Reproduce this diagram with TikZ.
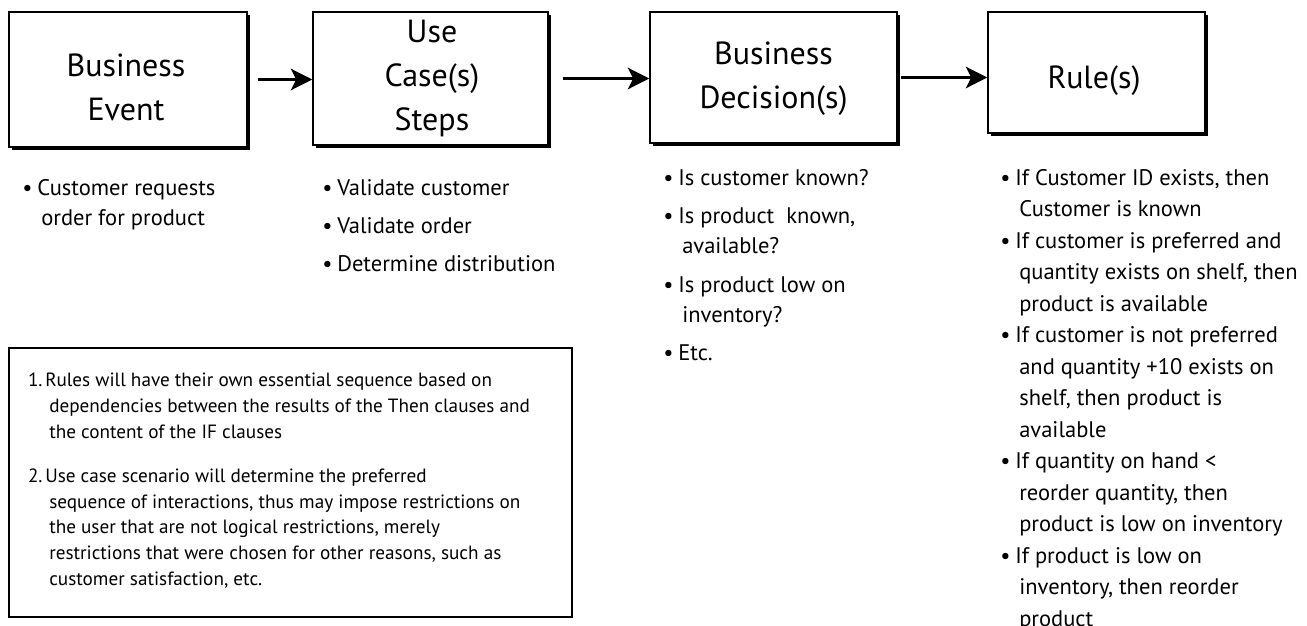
\documentclass[tikz,border=0pt]{standalone}
\usepackage{fontspec}
\setmainfont{PT Sans}
\usetikzlibrary{arrows.meta,shadows}
% bullet hanging in the left margin of an item
\newcommand\itembullet{\llap{\textbullet\hspace{3.5pt}}}
\newcommand\itemnum[1]{\llap{#1\hspace{2pt}}}
\newcommand\cont{\hspace*{3pt}}
\begin{document}
% multi-line nodes below are placed by the baseline of their last line
\begin{tikzpicture}[x=0.75pt,y=-0.75pt,
  stagebox/.style={draw=black, line width=1.1pt, fill=white, inner sep=0pt,
    drop shadow={shadow xshift=2.4pt, shadow yshift=-2.4pt, fill=black, opacity=1}},
  stagetitle/.style={font=\fontsize{24}{33}\selectfont, align=center, anchor=base, inner sep=0pt},
  flow/.style={line width=2.6pt, -{Stealth[length=16pt,width=16pt,inset=4pt]}},
  item/.style={font=\fontsize{16.9}{22.5}\selectfont, align=left, anchor=base west, inner sep=0pt},
  ruleitem/.style={item, font=\fontsize{16.9}{23.6}\selectfont},
  noteitem/.style={item, font=\fontsize{14.4}{19.2}\selectfont},
  notebox/.style={draw=black, line width=0.9pt, inner sep=0pt}
]
\useasboundingbox (0,0) rectangle (1307,625);

% the four stages
\node[stagebox, minimum width=178.5pt, minimum height=101.25pt] (b1) at (128,79.5) {};
\node[stagebox, minimum width=176.25pt, minimum height=99.75pt] (b2) at (430.5,78.5) {};
\node[stagebox, minimum width=185.25pt, minimum height=98.25pt] (b3) at (773.5,77.5) {};
\node[stagebox, minimum width=162.75pt, minimum height=90.75pt] (b4) at (1096.5,72.5) {};

\node[stagetitle] (t1) at (126,120) {Business\\Event};
\node[stagetitle] (t2) at (432,130) {Use\\Case(s)\\Steps};
\node[stagetitle] (t3) at (773.5,108) {Business\\Decision(s)};
\node[stagetitle] (t4) at (1094,88) {Rule(s)};

% flow between stages
\draw[flow, shorten <=7.5pt] (b1.east) -- (b1.east -| b2.west);
\draw[flow, shorten <=10.5pt] (b2.east) -- (b2.east -| b3.west);
\draw[flow, shorten <=2.3pt] (b3.east) -- (b3.east -| b4.west);

% business event
\node[item] (e1) at (37,225) {\itembullet Customer requests\\\cont order for product};

% use case steps
\node[item] (u1) at (337,195) {\itembullet Validate customer};
\node[item] (u2) at (337,233) {\itembullet Validate order};
\node[item] (u3) at (337,271) {\itembullet Determine distribution};

% business decisions
\node[item] (d1) at (678,185) {\itembullet Is customer known?};
\node[item] (d2) at (678,253) {\itembullet Is product\ \ known,\\\cont available?};
\node[item] (d3) at (678,322) {\itembullet Is product low on\\\cont inventory?};
\node[item] (d4) at (678,360) {\itembullet Etc.};

% rules
\node[ruleitem] (r1) at (1015,216.5) {\itembullet If Customer ID exists, then\\\cont Customer is known};
\node[ruleitem] (r2) at (1015,311) {\itembullet If customer is preferred and\\\cont quantity exists on shelf, then\\\cont product is available};
\node[ruleitem] (r3) at (1015,437) {\itembullet If customer is not preferred\\\cont and quantity +10 exists on\\\cont shelf, then product is\\\cont available};
\node[ruleitem] (r4) at (1015,531.5) {\itembullet If quantity on hand <\\\cont reorder quantity, then\\\cont product is low on inventory};
\node[ruleitem] (r5) at (1015,626) {\itembullet If product is low on\\\cont inventory, then reorder\\\cont product};

% notes
\node[notebox, minimum width=422.25pt, minimum height=201.75pt] (notes) at (290.5,482.5) {};
\node[noteitem] (n1) at (45,438) {\itemnum{1.}Rules will have their own essential sequence based on\\\cont dependencies between the results of the Then clauses and\\\cont the content of the IF clauses};
\node[noteitem] (n2) at (45,585) {\itemnum{2.}Use case scenario will determine the preferred\\\cont sequence of interactions, thus may impose restrictions on\\\cont the user that are not logical restrictions, merely\\\cont restrictions that were chosen for other reasons, such as\\\cont customer satisfaction, etc.};
\end{tikzpicture}
\end{document}
